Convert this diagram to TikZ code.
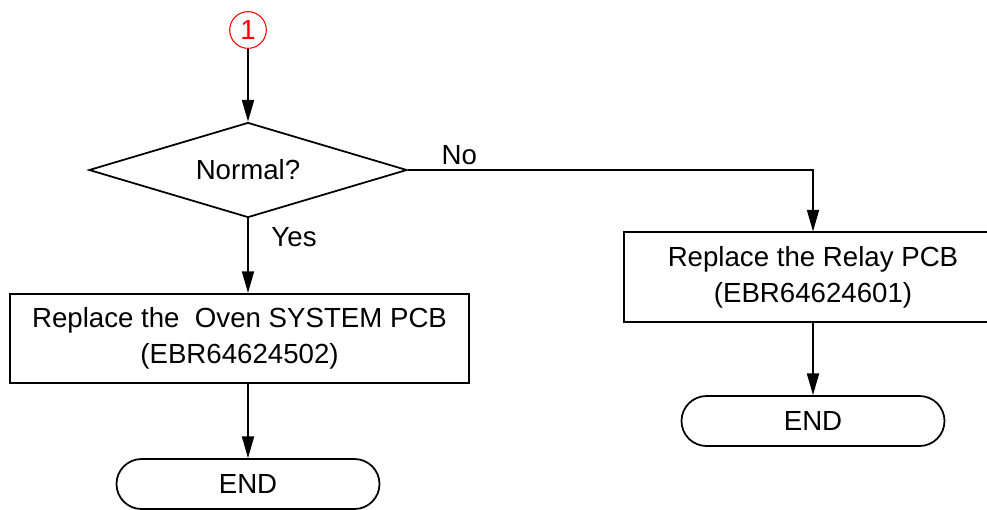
\documentclass[tikz,border=0pt]{standalone}
\usepackage{fontspec}
\setmainfont{Liberation Sans}
\usetikzlibrary{arrows.meta,positioning,shapes.geometric}
\tikzset{
  decision/.style={draw, diamond, aspect=3.35, minimum width=95.4mm, minimum height=28.5mm, inner sep=0pt, align=center},
  act/.style={draw, rectangle, minimum height=26.8mm, align=center},
  terminal/.style={draw, rounded corners=7.5mm, minimum width=78.9mm, minimum height=15mm, align=center},
  connector/.style={draw=red, circle, minimum size=11mm, inner sep=0pt, text=red, line width=0.9pt},
  arrow/.style={-{Triangle[length=6.5mm, width=3.6mm]}},
  flowlabel/.style={inner sep=0.3333em}
}
\begin{document}
\begin{tikzpicture}[x=0.3mm, y=-0.3mm, line width=1.5pt, font=\fontsize{23.6}{30.7}\selectfont]
  \useasboundingbox (0,0) rectangle (987,509);

  \node[connector] (start) at (248,30) {1};
  \node[decision] (normal) at (248,170) {Normal?};
  \node[act, minimum width=137.7mm] (oven) at (239.5,338.5) {Replace the\ \ Oven SYSTEM PCB\\(EBR64624502)};
  \node[act, minimum width=113.4mm] (relay) at (813,277) {Replace the Relay PCB\\(EBR64624601)};
  \node[terminal] (endl) at (248,484) {END};
  \node[terminal] (endr) at (813,421) {END};

  \draw[arrow] (start) -- (normal.north);
  \draw[arrow] (normal.east) -- node[flowlabel, pos=0.127, above] (no) {No} (normal.east -| relay.north) -- (relay.north);
  \draw[arrow] (normal.south) -- node[flowlabel, pos=0.25, right=5.6mm] (yes) {Yes} (normal.south |- oven.north);
  \draw[arrow] (oven.south -| normal.south) -- (endl.north);
  \draw[arrow] (relay.south) -- (endr.north);
\end{tikzpicture}
\end{document}
